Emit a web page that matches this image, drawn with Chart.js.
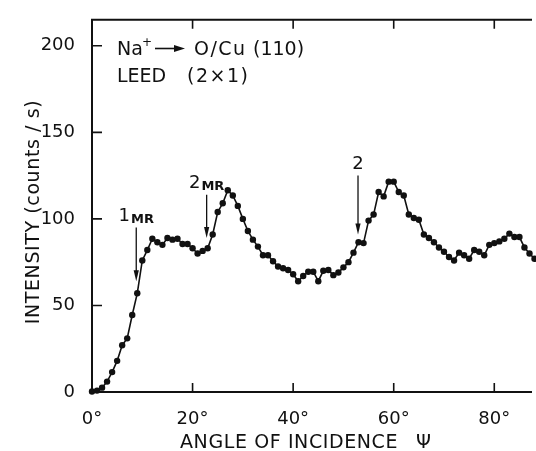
<!DOCTYPE html>
<html>
<head>
<meta charset="utf-8">
<script src="https://cdn.jsdelivr.net/npm/chart.js@4.4.1/dist/chart.umd.min.js"></script>
<style>
    html, body { margin: 0; padding: 0; background: #fff; }
    #contenedor { width: 536px; height: 451px; }
</style>
</head>
<body>
<div id="contenedor"><canvas id="grafico" width="536" height="451"></canvas></div>
<script>
// Ángulo de incidencia (grados) y cuentas por segundo
const angulos = [
    0, 1, 2, 3, 4, 5, 6, 7, 8, 9, 10, 11, 12, 13, 14, 15, 16, 17, 18, 19,
    20, 21, 22, 23, 24, 25, 26, 27, 28, 29, 30, 31, 32, 33, 34, 35, 36, 37, 38, 39,
    40, 41, 42, 43, 44, 45, 46, 47, 48, 49, 50, 51, 52, 53, 54, 55, 56, 57, 58, 59,
    60, 61, 62, 63, 64, 65, 66, 67, 68, 69, 70, 71, 72, 73, 74, 75, 76, 77, 78, 79,
    80, 81, 82, 83, 84, 85, 86, 87, 88
];
const intensidad = [
    0.3, 0.8, 2.5, 6, 11.5, 18, 27, 31, 44.5, 57, 76, 82, 88.5, 86.5, 85, 89, 88, 88.5, 85.5, 85.5,
    83, 80, 81.5, 83, 91, 104, 109, 116.5, 113.5, 107.5, 100, 93, 88, 84, 79, 79, 75.5, 72.5, 71.5, 70.5,
    68, 64, 67, 69.5, 69.5, 64, 70, 70.5, 67.5, 69, 72, 75, 80.5, 86.5, 86, 99, 102.5, 115.5, 113, 121.5,
    121.5, 115.5, 113.5, 102.5, 100.5, 99.5, 91, 89, 86.5, 83.5, 81, 78, 76, 80.5, 79, 77, 82, 81, 79, 85,
    86, 87, 88.5, 91.5, 89.5, 89.5, 83.5, 80, 77
];

const ticksX = [0, 20, 40, 60, 80];
const ticksY = [0, 50, 100, 150, 200];

// Flechas de las reflexiones marcadas: ángulo y tramo vertical (cuentas)
const marcasTexto = ['1', '2', '2'];
const marcasSub = ['MR', 'MR', ''];
const marcasAngulo = [8.8, 22.8, 52.9];
const marcasDesde = [95, 114, 125];
const marcasHasta = [64, 89, 91];

const fuente = '"DejaVu Sans", sans-serif';
const tinta = '#111';

const marco = {
    id: 'marco',
    afterDatasetsDraw(chart) {
        const { ctx, chartArea: a, scales: { x, y } } = chart;
        ctx.save();
        ctx.strokeStyle = tinta;
        ctx.fillStyle = tinta;

        // ejes y borde superior
        ctx.lineWidth = 2;
        ctx.beginPath();
        ctx.moveTo(a.right, a.top);
        ctx.lineTo(a.left, a.top);
        ctx.lineTo(a.left, a.bottom);
        ctx.lineTo(a.right, a.bottom);
        ctx.stroke();

        // marcas hacia dentro
        ctx.lineWidth = 1.6;
        ctx.beginPath();
        ticksX.slice(1).forEach(v => {
            const px = x.getPixelForValue(v);
            ctx.moveTo(px, a.bottom); ctx.lineTo(px, a.bottom - 9);
            ctx.moveTo(px, a.top); ctx.lineTo(px, a.top + 9);
        });
        ticksY.slice(1).forEach(v => {
            const py = y.getPixelForValue(v);
            ctx.moveTo(a.left, py); ctx.lineTo(a.left + 10, py);
        });
        ctx.stroke();

        // títulos de los ejes
        ctx.font = '19px ' + fuente;
        ctx.letterSpacing = '0.6px';
        ctx.textAlign = 'left';
        ctx.textBaseline = 'alphabetic';
        ctx.fillText('ANGLE OF INCIDENCE', 180, 448);
        ctx.fillText('\u03A8', 416, 448);

        ctx.save();
        ctx.translate(39, 212);
        ctx.rotate(-Math.PI / 2);
        ctx.textAlign = 'center';
        ctx.fillText('INTENSITY (counts / s)', 0, 0);
        ctx.restore();

        // rótulo del sistema
        ctx.letterSpacing = '0px';
        ctx.font = '19px ' + fuente;
        ctx.fillText('Na', 117, 55);
        ctx.font = '12px ' + fuente;
        ctx.fillText('+', 142, 46);
        ctx.lineWidth = 1.6;
        ctx.beginPath();
        ctx.moveTo(155, 48.5); ctx.lineTo(176, 48.5);
        ctx.stroke();
        ctx.beginPath();
        ctx.moveTo(185, 48.5); ctx.lineTo(174, 45); ctx.lineTo(174, 52); ctx.closePath();
        ctx.fill();
        ctx.font = '19px ' + fuente;
        ctx.letterSpacing = '1.5px';
        ctx.fillText('O/Cu', 194, 55);
        ctx.letterSpacing = '0px';
        ctx.fillText('(110)', 253, 55);
        ctx.fillText('LEED', 117, 82);
        ctx.letterSpacing = '1.5px';
        ctx.fillText('(2\u00D71)', 187, 82);
        ctx.letterSpacing = '0px';

        // flechas con sus etiquetas
        marcasAngulo.forEach((ang, i) => {
            const px = x.getPixelForValue(ang);
            const y0 = y.getPixelForValue(marcasDesde[i]);
            const y1 = y.getPixelForValue(marcasHasta[i]);
            ctx.lineWidth = 1.3;
            ctx.beginPath();
            ctx.moveTo(px, y0); ctx.lineTo(px, y1 - 8);
            ctx.stroke();
            ctx.beginPath();
            ctx.moveTo(px, y1); ctx.lineTo(px - 2.6, y1 - 11); ctx.lineTo(px + 2.6, y1 - 11); ctx.closePath();
            ctx.fill();

            ctx.font = '18px ' + fuente;
            const w1 = ctx.measureText(marcasTexto[i]).width;
            ctx.font = 'bold 13px ' + fuente;
            const w2 = marcasSub[i] ? ctx.measureText(marcasSub[i]).width + 1 : 0;
            const x0 = px - (w1 + w2) / 2;
            ctx.font = '18px ' + fuente;
            ctx.fillText(marcasTexto[i], x0, y0 - 7);
            if (marcasSub[i]) {
                ctx.font = 'bold 13px ' + fuente;
                ctx.fillText(marcasSub[i], x0 + w1 + 1, y0 - 5);
            }
        });
        ctx.restore();
    }
};

new Chart(document.getElementById('grafico'), {
    type: 'line',
    data: {
        datasets: [{
            data: angulos.map((a, i) => ({ x: a, y: intensidad[i] })),
            borderColor: tinta,
            borderWidth: 1.6,
            pointRadius: 3.2,
            pointBackgroundColor: tinta,
            pointBorderWidth: 0,
            tension: 0,
            clip: 6
        }]
    },
    options: {
        responsive: false,
        animation: false,
        layout: { padding: { top: 10, right: 0, bottom: 0, left: 0 } },
        plugins: { legend: { display: false }, tooltip: { enabled: false } },
        scales: {
            x: {
                type: 'linear',
                min: 0,
                max: 87.5,
                grid: { display: false },
                border: { display: false },
                afterBuildTicks: s => { s.ticks = ticksX.map(v => ({ value: v })); },
                afterFit: s => { s.height = 59; },
                ticks: {
                    font: { family: fuente, size: 18 },
                    color: tinta,
                    padding: 9,
                    maxRotation: 0,
                    autoSkip: false,
                    callback: v => v + '°'
                }
            },
            y: {
                min: 0,
                max: 215,
                grid: { display: false },
                border: { display: false },
                afterBuildTicks: s => { s.ticks = ticksY.map(v => ({ value: v })); },
                afterFit: s => { s.width = 92; },
                ticks: {
                    font: { family: fuente, size: 18 },
                    color: tinta,
                    padding: 9
                }
            }
        }
    },
    plugins: [marco]
});
</script>
</body>
</html>
